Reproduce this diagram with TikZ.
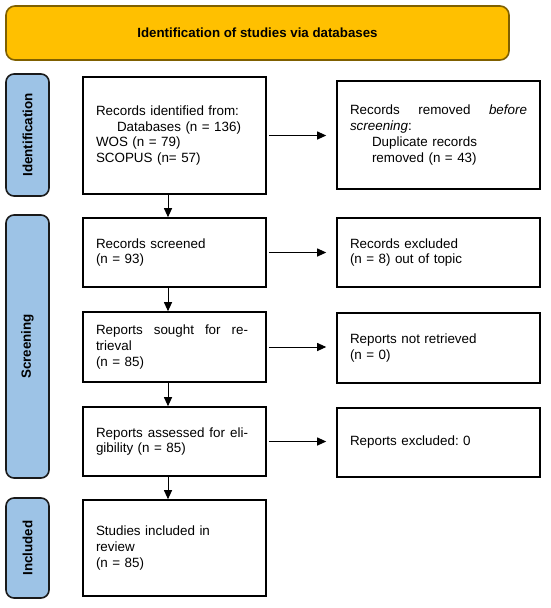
\documentclass[tikz,border=0pt]{standalone}
\usepackage{fontspec}
\setmainfont{Liberation Sans}
\usepackage{graphicx}
\usetikzlibrary{arrows.meta}
\definecolor{hdrfill}{HTML}{FFC000}
\definecolor{hdrline}{HTML}{7F6000}
\definecolor{sidefill}{HTML}{9DC3E6}
\definecolor{sideline}{HTML}{1A1A1A}
\frenchspacing
\begin{document}
\begin{tikzpicture}[x=1pt,y=-1pt,
  every node/.style={font=\fontsize{13.4}{15.7}\selectfont},
  box/.style={draw=black, line width=1.6pt, rectangle, inner sep=0pt, align=left},
  lbox/.style={box, minimum width=183pt, text width=157pt},
  rbox/.style={box, minimum width=203pt, text width=177pt},
  side/.style={draw=sideline, fill=sidefill, line width=1.6pt, rounded corners=8pt,
    minimum width=43pt, inner sep=0pt, font=\fontsize{13.4}{15.7}\selectfont\bfseries},
  hdr/.style={draw=hdrline, fill=hdrfill, line width=1.6pt, rounded corners=9pt,
    minimum width=503pt, minimum height=54pt, inner sep=0pt, font=\fontsize{13.3}{15.7}\selectfont\bfseries},
  arr/.style={line width=1pt, -{Triangle[length=9pt,width=8pt]}},
]
\useasboundingbox (0,0) rectangle (550,608);

\node[hdr] (hdr) at (257.5,33) {Identification of studies via databases};

\node[side, minimum height=122pt] (sid) at (27.5,135) {\rotatebox{90}{Identification}};
\node[side, minimum height=263pt] (ssc) at (27.5,346.5) {\rotatebox{90}{Screening}};
\node[side, minimum height=100pt] (sin) at (27.5,548) {\rotatebox{90}{Included}};

\node[lbox, minimum height=117pt] (b1) at (174.5,135.5)
  {Records identified from:\\\hspace*{21pt}Databases (n = 136)\\WOS (n = 79)\\SCOPUS (n= 57)};
\node[lbox, minimum height=69pt] (b2) at (174.5,252.5)
  {Records screened\\(n = 93)};
\node[lbox, minimum height=70pt] (b3) at (174.5,347)
  {\hbox to 152pt{Reports\hfill sought\hfill for\hfill re-}\\trieval\\(n = 85)};
\node[lbox, minimum height=69pt] (b4) at (174.5,441.5)
  {\hbox to 152pt{Reports\hfill assessed\hfill for\hfill eli-}\\gibility (n = 85)};
\node[lbox, minimum height=96pt] (b5) at (174.5,548)
  {Studies included in\\review\\(n = 85)};

\node[rbox, minimum height=108pt] (r1) at (438.5,135)
  {\hbox to 177pt{Records\hfill removed\hfill \textit{before}}\\\textit{screening}:\\\hspace*{22pt}Duplicate records\\\hspace*{22pt}removed (n = 43)};
\node[rbox, minimum height=69pt] (r2) at (438.5,252.5)
  {Records excluded\\(n = 8) out of topic};
\node[rbox, minimum height=70pt] (r3) at (438.5,348)
  {Reports not retrieved\\(n = 0)};
\node[rbox, minimum height=69pt] (r4) at (438.5,442.5)
  {Reports excluded: 0};

\coordinate (ax) at (168,0);
\draw[arr] (b1.south -| ax) -- (b2.north -| ax);
\draw[arr] (b2.south -| ax) -- (b3.north -| ax);
\draw[arr] (b3.south -| ax) -- (b4.north -| ax);
\draw[arr] (b4.south -| ax) -- (b5.north -| ax);

\draw[arr, shorten <=2pt, shorten >=10pt] (b1.east) -- (b1.east -| r1.west);
\draw[arr, shorten <=2pt, shorten >=10pt] (b2.east) -- (b2.east -| r2.west);
\draw[arr, shorten <=2pt, shorten >=10pt] (b3.east) -- (b3.east -| r3.west);
\draw[arr, shorten <=2pt, shorten >=10pt] (b4.east) -- (b4.east -| r4.west);
\end{tikzpicture}
\end{document}
